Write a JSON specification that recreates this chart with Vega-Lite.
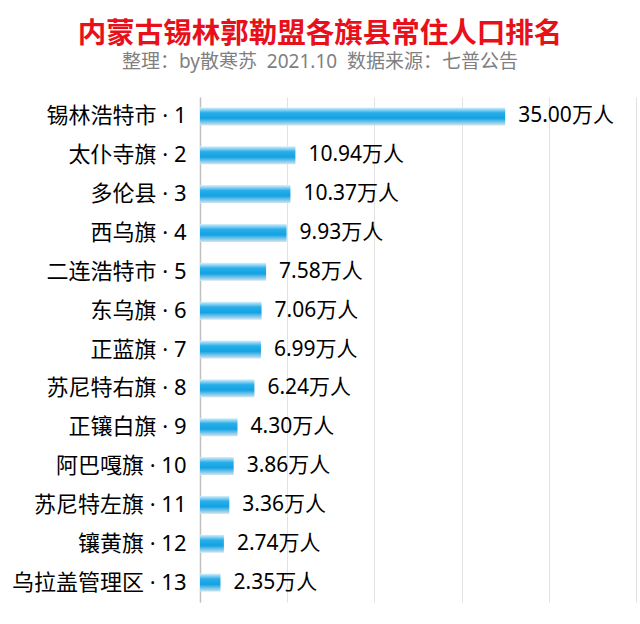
{
  "$schema": "https://vega.github.io/schema/vega-lite/v6.json",
  "autosize": {"type": "none"},
  "padding": {"left": 200, "top": 97, "right": 4, "bottom": 22},
  "width": 436,
  "height": 505,
  "background": "white",
  "title": {
    "text": "内蒙古锡林郭勒盟各旗县常住人口排名",
    "subtitle": "整理：by散寒苏\u00a0\u00a02021.10\u00a0\u00a0数据来源：七普公告",
    "anchor": "middle",
    "dx": -98,
    "offset": 25,
    "font": "Noto Sans CJK SC",
    "fontSize": 28.5,
    "fontWeight": "bold",
    "color": "#E8101A",
    "subtitleFont": "'Noto Sans', 'Noto Sans CJK SC'",
    "subtitleFontSize": 19,
    "subtitleColor": "#808080",
    "subtitlePadding": 5
  },
  "data": {
    "values": [
      {"label": "锡林浩特市 · 1", "v": 35.00},
      {"label": "太仆寺旗 · 2", "v": 10.94},
      {"label": "多伦县 · 3", "v": 10.37},
      {"label": "西乌旗 · 4", "v": 9.93},
      {"label": "二连浩特市 · 5", "v": 7.58},
      {"label": "东乌旗 · 6", "v": 7.06},
      {"label": "正蓝旗 · 7", "v": 6.99},
      {"label": "苏尼特右旗 · 8", "v": 6.24},
      {"label": "正镶白旗 · 9", "v": 4.30},
      {"label": "阿巴嘎旗 · 10", "v": 3.86},
      {"label": "苏尼特左旗 · 11", "v": 3.36},
      {"label": "镶黄旗 · 12", "v": 2.74},
      {"label": "乌拉盖管理区 · 13", "v": 2.35}
    ]
  },
  "transform": [{"calculate": "format(datum.v, '.2f') + '万人'", "as": "txt"}],
  "encoding": {
    "y": {
      "field": "label",
      "type": "nominal",
      "sort": null,
      "title": null,
      "axis": {
        "ticks": false,
        "labelPadding": 14,
        "labelFont": "'Noto Sans', 'Noto Sans CJK SC'",
        "labelFontSize": 22,
        "labelColor": "#000000",
        "labelLimit": 200,
        "domainColor": "#c0c0c0",
        "domainWidth": 1.5,
        "grid": false
      }
    },
    "x": {
      "field": "v",
      "type": "quantitative",
      "scale": {"domain": [0, 50], "nice": false},
      "axis": {
        "title": null,
        "labels": false,
        "ticks": false,
        "domain": false,
        "grid": true,
        "gridColor": "#e2e2e2",
        "values": [0, 10, 20, 30, 40, 50]
      }
    }
  },
  "layer": [
    {
      "mark": {
        "type": "bar",
        "size": 18,
        "color": {
          "gradient": "linear",
          "x1": 0, "y1": 0, "x2": 0, "y2": 1,
          "stops": [
            {"offset": 0, "color": "#d9f1fc"},
            {"offset": 0.3, "color": "#29aee9"},
            {"offset": 0.6, "color": "#12a2e3"},
            {"offset": 1, "color": "#d4e4ee"}
          ]
        }
      }
    },
    {
      "mark": {
        "type": "text",
        "align": "left",
        "dx": 13,
        "font": "'Noto Sans', 'Noto Sans CJK SC'",
        "fontSize": 21,
        "color": "#000000"
      },
      "encoding": {"text": {"field": "txt"}}
    }
  ],
  "config": {"view": {"stroke": null}}
}
